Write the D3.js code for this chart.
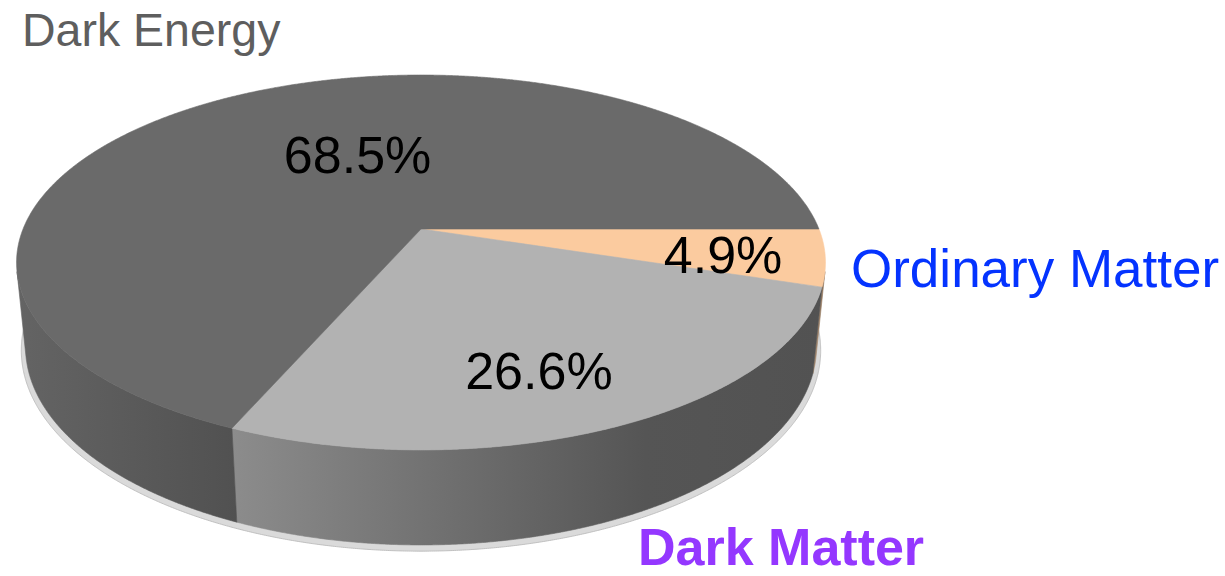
<!DOCTYPE html>
<html>
<head>
<meta charset="utf-8">
<script src="https://cdn.jsdelivr.net/npm/d3@7"></script>
<style>
  html, body { margin: 0; padding: 0; background: #ffffff; }
  svg { display: block; }
  text { font-family: "Liberation Sans", Arial, Helvetica, sans-serif; }
</style>
</head>
<body>
<svg id="chart" width="1225" height="576"></svg>
<script>
// Composition of the universe
const categories = ["Ordinary Matter", "Dark Matter", "Dark Energy"];
const shares = [4.9, 26.6, 68.5];

// Styling per category
const topColors = ["#fbcb9f", "#b2b2b2", "#6a6a6a"];
const wallStops = [
  [[0, "#a88c72"], [1, "#8a7058"]],
  [[0, "#8c8c8c"], [0.7, "#555555"], [1, "#525252"]],
  [[0, "#646464"], [1, "#515151"]]
];
// Where each value label sits on its slice (fraction of radius, angular nudge in degrees)
const labelPlacement = [
  { r: 0.753, nudge: 1.5 },
  { r: 0.73, nudge: 3.6 },
  { r: 0.478, nudge: 12.2 }
];

const W = 1225, H = 576;
const svg = d3.select("#chart");

// Perspective camera looking down on a unit-radius disc lying in the x–z plane
const cam = { cx: 421, cy: 229, f: 1983, d: 4.983, tilt: 27.13 * Math.PI / 180 };
const thickness = 0.24;
const sT = Math.sin(cam.tilt), cT = Math.cos(cam.tilt);

function project(x, y, z) {
  const v = z * sT - y * cT;
  const depth = cam.d - (z * cT + y * sT);
  return [cam.cx + cam.f * x / depth, cam.cy + cam.f * v / depth];
}

function arcPoints(a0, a1, r, y) {
  const step = 0.25 * Math.PI / 180;
  const n = Math.max(2, Math.ceil(Math.abs(a1 - a0) / step));
  return d3.range(n + 1).map(i => {
    const a = a0 + (a1 - a0) * i / n;
    return project(r * Math.cos(a), y, r * Math.sin(a));
  });
}

const line = d3.line().x(p => p[0]).y(p => p[1]);
const closed = pts => line(pts) + "Z";

// Slices, running clockwise on screen from the right-hand side of the disc
const arcs = d3.pie().sort(null).value(d => d)(shares);

const defs = svg.append("defs");
defs.append("filter").attr("id", "soft")
  .append("feGaussianBlur").attr("stdDeviation", 0.7);

// Faint rim beneath the disc
svg.append("path")
  .attr("d", closed(arcPoints(0, 2 * Math.PI, 1.011, -thickness - 0.008)))
  .attr("fill", "#dadada")
  .attr("stroke", "#bbbbbb")
  .attr("stroke-width", 0.9)
  .attr("filter", "url(#soft)");

// Outer walls: only the arc facing the camera is drawn
const silhouette = Math.asin(1 / (cam.d * cT));
const wallGroup = svg.append("g");
arcs.forEach((a, i) => {
  const a0 = Math.max(a.startAngle, silhouette);
  const a1 = Math.min(a.endAngle, Math.PI - silhouette);
  if (a0 >= a1) return;
  const top = arcPoints(a0, a1, 1, 0);
  const bottom = arcPoints(a1, a0, 1, -thickness);
  const pts = top.concat(bottom);
  const xs = d3.extent(pts, p => p[0]);
  const grad = defs.append("linearGradient")
    .attr("id", "wall" + i)
    .attr("gradientUnits", "userSpaceOnUse")
    .attr("x1", xs[0]).attr("x2", xs[1]).attr("y1", 0).attr("y2", 0);
  wallStops[i].forEach(s => grad.append("stop").attr("offset", s[0]).attr("stop-color", s[1]));
  wallGroup.append("path")
    .attr("d", closed(pts))
    .attr("fill", `url(#wall${i})`)
    .attr("stroke", `url(#wall${i})`)
    .attr("stroke-width", 0.6);
});

// Top faces
const topGroup = svg.append("g");
arcs.forEach((a, i) => {
  const pts = [project(0, 0, 0)].concat(arcPoints(a.startAngle, a.endAngle, 1, 0));
  topGroup.append("path")
    .attr("d", closed(pts))
    .attr("fill", topColors[i])
    .attr("stroke", topColors[i])
    .attr("stroke-width", 0.6);
});

// Value labels on the slices
const fmt = v => v.toFixed(1) + "%";
arcs.forEach((a, i) => {
  const lp = labelPlacement[i];
  const ang = (a.startAngle + a.endAngle) / 2 + lp.nudge * Math.PI / 180;
  const p = project(lp.r * Math.cos(ang), 0, lp.r * Math.sin(ang));
  svg.append("text")
    .attr("x", p[0]).attr("y", p[1])
    .attr("dy", "0.36em")
    .attr("text-anchor", "middle")
    .attr("font-size", 52)
    .attr("fill", "#000000")
    .text(fmt(a.data));
});

// Category names
svg.append("text")
  .attr("x", 22).attr("y", 46)
  .attr("font-size", 46.5)
  .attr("fill", "#5e5e5e")
  .text(categories[2]);

svg.append("text")
  .attr("x", 851).attr("y", 287)
  .attr("font-size", 53)
  .attr("fill", "#0433ff")
  .text(categories[0]);

svg.append("text")
  .attr("x", 638).attr("y", 565)
  .attr("font-size", 52)
  .attr("font-weight", "bold")
  .attr("fill", "#9437ff")
  .text(categories[1]);
</script>
</body>
</html>
